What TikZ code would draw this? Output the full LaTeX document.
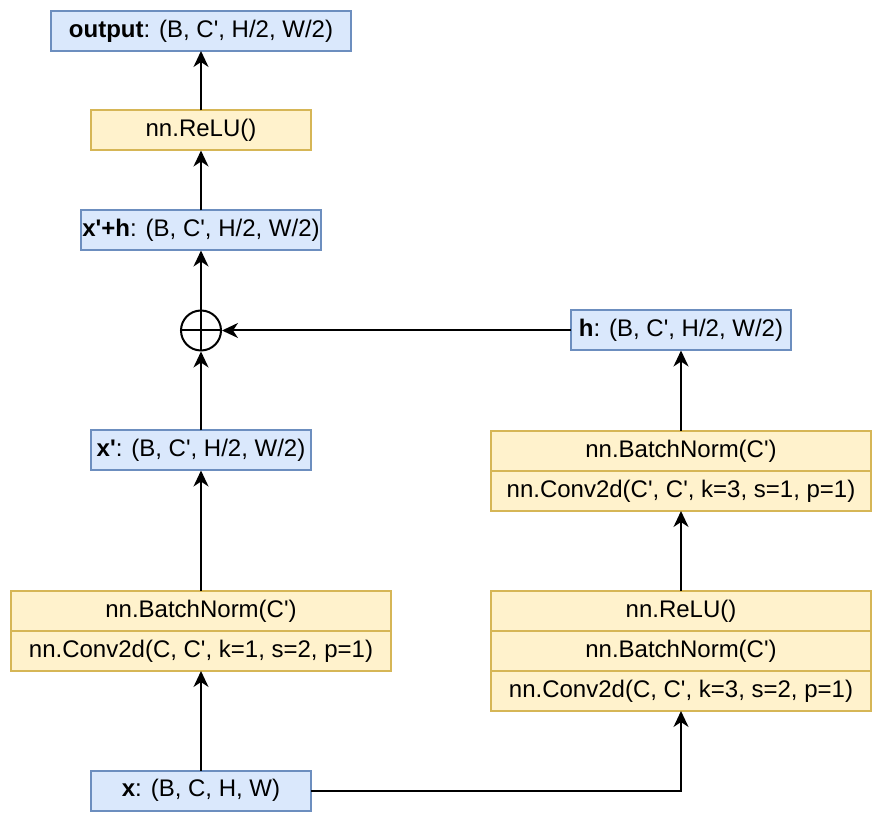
\documentclass[tikz,border=0pt]{standalone}
\usepackage{fontspec}
\newfontfamily\diagfont{Liberation Sans}
\usetikzlibrary{positioning,arrows.meta}

\definecolor{tensorfill}{HTML}{DAE8FC}
\definecolor{tensorline}{HTML}{6C8EBF}
\definecolor{layerfill}{HTML}{FFF2CC}
\definecolor{layerline}{HTML}{D6B656}

\tikzset{
  tensor/.style={draw=tensorline, fill=tensorfill, line width=1pt,
    minimum height=20pt, inner sep=0pt, outer sep=0pt},
  layer/.style={draw=layerline, fill=layerfill, line width=1pt,
    minimum width=190pt, minimum height=20pt, inner sep=0pt, outer sep=0pt},
  flow/.style={line width=1pt, -{Stealth[length=8pt,width=7.5pt,inset=2.5pt]}},
}

\begin{document}
\begin{tikzpicture}[x=0.5pt, y=-0.5pt, font=\diagfont\fontsize{12}{14}\selectfont]
      \useasboundingbox (0,0) rectangle (882,822);
      % tensors
      \node[tensor, minimum width=150pt] (output) at (201,31) {\textbf{output}: (B, C', H/2, W/2)};
      \node[tensor, minimum width=120pt] (xh) at (201,230.5) {\textbf{x'+h}: (B, C', H/2, W/2)};
      \node[tensor, minimum width=110pt] (h) at (681,330.5) {\textbf{h}: (B, C', H/2, W/2)};
      \node[tensor, minimum width=110pt] (xp) at (201,450.5) {\textbf{x'}: (B, C', H/2, W/2)};
      \node[tensor, minimum width=110pt] (x) at (201,790.5) {\textbf{x}: (B, C, H, W)};
      % sum
      \node[circle, draw, fill=white, line width=1pt, minimum size=20pt, inner sep=0pt] (oplus) at (201,330.5) {};
      \draw[line width=1pt] (oplus.north) -- (oplus.south) (oplus.west) -- (oplus.east);
      % top
      \node[layer, minimum width=110pt] (relu) at (201,130.5) {nn.ReLU()};
      % shortcut branch
      \node[layer] (bn1) at (201,611) {nn.BatchNorm(C')};
      \node[layer, below=0pt of bn1] (conv1) {nn.Conv2d(C, C', k=1, s=2, p=1)};
      % main branch
      \node[layer] (relu2) at (681,611) {nn.ReLU()};
      \node[layer, below=0pt of relu2] (bn2) {nn.BatchNorm(C')};
      \node[layer, below=0pt of bn2] (conv2) {nn.Conv2d(C, C', k=3, s=2, p=1)};
      \node[layer] (bn3) at (681,451) {nn.BatchNorm(C')};
      \node[layer, below=0pt of bn3] (conv3) {nn.Conv2d(C', C', k=3, s=1, p=1)};
      % arrows
      \draw[flow] (x) -- (conv1);
      \draw[flow] (bn1) -- (xp);
      \draw[flow] (xp) -- (oplus);
      \draw[flow] (oplus) -- (xh);
      \draw[flow] (xh) -- (relu);
      \draw[flow] (relu) -- (output);
      \draw[flow] (x.east) -| (conv2);
      \draw[flow] (relu2) -- (conv3);
      \draw[flow] (bn3) -- (h);
      \draw[flow] (h) -- (oplus);
    \end{tikzpicture}
\end{document}
